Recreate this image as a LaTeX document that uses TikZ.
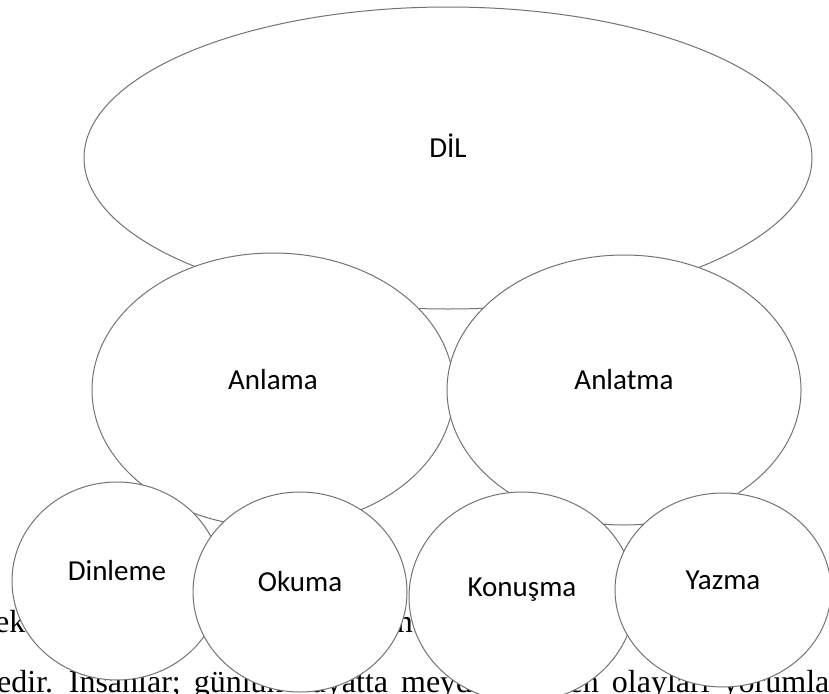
\documentclass[tikz,border=0pt]{standalone}
\usepackage{fontspec}
\usetikzlibrary{shapes.geometric}
\newfontfamily\lblfont{Carlito}
\newfontfamily\pagefont{Liberation Serif}

\begin{document}
\begin{tikzpicture}[x=1pt, y=-1pt,
  oval/.style={ellipse, draw=black!55, fill=white, line width=1pt, inner sep=0pt, text height=20pt, text depth=22pt, font=\lblfont\fontsize{29}{34}\selectfont},
  pagetext/.style={inner sep=0pt, font=\pagefont\fontsize{32}{38}\selectfont}]

\clip (0,0) rectangle (829,693);

\node [pagetext, anchor=base west] (ek) at (-5,632) {ek};
\node [pagetext, anchor=base east] (nn) at (413,632) {n};
\node [pagetext, anchor=base west] (line) at (-3,692) {\spaceskip=13pt\relax edir. Insanlar; günlük hayatta meydana gelen olayları yorumla};

\node [oval, minimum width=728, minimum height=302] (dil) at (448,158) {DİL};

\node [oval, minimum width=362, minimum height=274] (anlama) at (273,390) {Anlama};
\node [oval, minimum width=354, minimum height=270] (anlatma) at (624,390) {Anlatma};

\node [oval, minimum width=210, minimum height=198] (dinleme) at (117,581) {Dinleme};
\node [oval, minimum width=214, minimum height=200] (okuma) at (300,592) {Okuma};
\node [oval, minimum width=226, minimum height=210] (konusma) at (522,597) {Konuşma};
\node [oval, minimum width=216, minimum height=194] (yazma) at (723,590) {Yazma};

\end{tikzpicture}
\end{document}
